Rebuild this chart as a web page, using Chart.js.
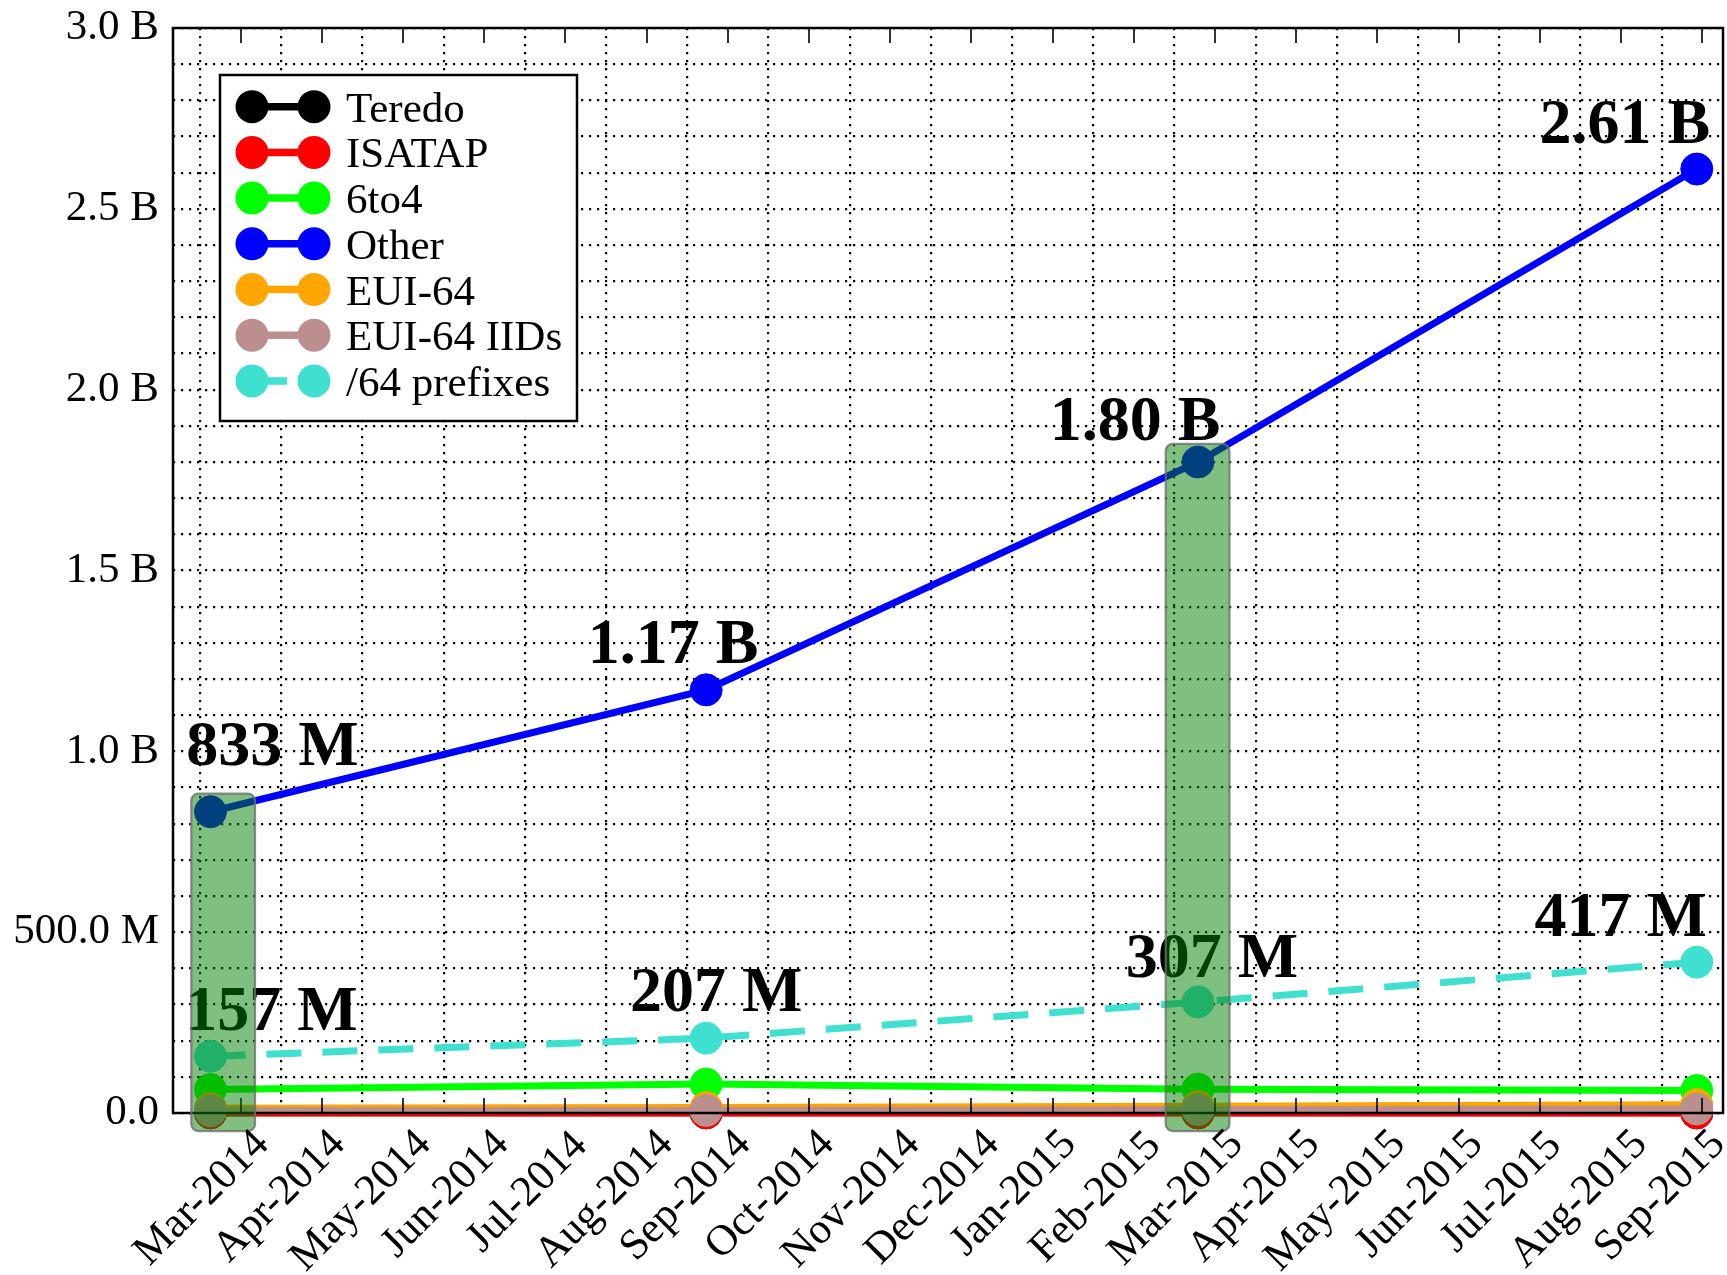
<!DOCTYPE html>
<html>
<head>
<meta charset="utf-8">
<title>IPv6 address counts</title>
<script src="https://cdn.jsdelivr.net/npm/chart.js@4.4.1/dist/chart.umd.min.js"></script>
<style>
  html, body { margin: 0; padding: 0; background: #ffffff; }
  #wrap { width: 1727px; height: 1275px; }
</style>
</head>
<body>
<div id="wrap"><canvas id="chart" width="1727" height="1275"></canvas></div>
<script>
// ---- data -------------------------------------------------------------
const monthLabels = [
  'Mar-2014', 'Apr-2014', 'May-2014', 'Jun-2014', 'Jul-2014', 'Aug-2014',
  'Sep-2014', 'Oct-2014', 'Nov-2014', 'Dec-2014', 'Jan-2015', 'Feb-2015',
  'Mar-2015', 'Apr-2015', 'May-2015', 'Jun-2015', 'Jul-2015', 'Aug-2015',
  'Sep-2015'
];
const sampleDates = ['2014-03-05', '2014-09-08', '2015-03-10', '2015-09-14'];

const seriesNames = ['Teredo', 'ISATAP', '6to4', 'Other', 'EUI-64', 'EUI-64 IIDs', '/64 prefixes'];
const teredo     = [0.6e6, 0.5e6, 0.4e6, 0.4e6];
const isatap     = [0.3e6, 0.2e6, 0.2e6, 0.2e6];
const sixToFour  = [65e6, 80e6, 66e6, 62e6];
const other      = [833e6, 1170e6, 1800e6, 2610e6];
const eui64      = [13e6, 15e6, 19e6, 23e6];
const eui64Iids  = [6e6, 7e6, 9e6, 11e6];
const prefixes64 = [157e6, 207e6, 307e6, 417e6];

const yTickValues = [0, 0.5e9, 1.0e9, 1.5e9, 2.0e9, 2.5e9, 3.0e9];
const yTickLabels = ['0.0', '500.0 M', '1.0 B', '1.5 B', '2.0 B', '2.5 B', '3.0 B'];

// measurement windows shaded on the plot
const highlightWindows = [['2014-02-26', '2014-03-22'], ['2015-02-26', '2015-03-22']];

// ---- styling ----------------------------------------------------------
const seriesColors = ['#000000', '#ff0000', '#00ff00', '#0000ff', '#ffa500', '#bc8f8f', '#40e0d0'];
const seriesDash   = [[], [], [], [], [], [], [35, 21]];
const FONT = '"Liberation Serif", "Times New Roman", serif';

// text offsets (px) of value labels from their markers: [dx of centre, dy of baseline]
const labelledSeries = [
  { index: 3, nudges: [[62, -47], [-33, -27], [-63, -22], [-72, -26]] },
  { index: 6, nudges: [[61, -26], [10, -27], [14, -25], [-76, -26]] }
];

// ---- helpers ----------------------------------------------------------
// position on the month axis: 0 = start of Mar-2014, 1 = start of Apr-2014, ...
function monthPos(iso) {
  const [yr, mo, d] = iso.split('-').map(Number);
  const idx = (yr - 2014) * 12 + (mo - 3);
  const daysInMonth = new Date(yr, mo, 0).getDate();
  return idx + (d - 1) / daysInMonth;
}
function fmtValue(v) {
  return v >= 1e9 ? (v / 1e9).toFixed(2) + ' B' : Math.round(v / 1e6) + ' M';
}

const allSeries = [teredo, isatap, sixToFour, other, eui64, eui64Iids, prefixes64];
const datasets = allSeries.map((vals, i) => ({
  label: seriesNames[i],
  data: vals.map((v, j) => ({ x: monthPos(sampleDates[j]), y: v })),
  borderColor: seriesColors[i],
  backgroundColor: seriesColors[i],
  pointBackgroundColor: seriesColors[i],
  pointBorderColor: seriesColors[i],
  pointBorderWidth: 1,
  pointRadius: 16,
  pointHoverRadius: 16,
  borderWidth: 7,
  borderDash: seriesDash[i],
  tension: 0,
  fill: false,
  clip: false,
  order: allSeries.length - i   // later series are painted on top
}));

// ---- overlays: frame, minor ticks, value labels, shaded windows, legend, month labels
const overlays = {
  id: 'overlays',
  afterDatasetsDraw(chart) {
    const { ctx, chartArea: a, scales: { x, y } } = chart;
    ctx.save();

    // axes frame
    ctx.strokeStyle = '#000';
    ctx.lineWidth = 2.5;
    ctx.strokeRect(a.left, a.top, a.right - a.left, a.bottom - a.top);

    // mid-month tick marks on top and bottom edges
    ctx.lineWidth = 1.6;
    for (let i = 0; i < monthLabels.length; i++) {
      const px = Math.round(x.getPixelForValue(i + 0.5));
      if (px >= a.right - 3) continue;
      ctx.beginPath();
      ctx.moveTo(px, a.bottom); ctx.lineTo(px, a.bottom - 15);
      ctx.moveTo(px, a.top);    ctx.lineTo(px, a.top + 15);
      ctx.stroke();
    }

    // value labels
    ctx.font = 'bold 64px ' + FONT;
    ctx.fillStyle = '#000';
    ctx.textAlign = 'center';
    ctx.textBaseline = 'alphabetic';
    labelledSeries.forEach(({ index, nudges }) => {
      const meta = chart.getDatasetMeta(index);
      meta.data.forEach((pt, j) => {
        const v = chart.data.datasets[index].data[j].y;
        ctx.fillText(fmtValue(v), pt.x + nudges[j][0], pt.y + nudges[j][1]);
      });
    });

    // shaded measurement windows
    highlightWindows.forEach(([from, to]) => {
      const x0 = monthPos(from), x1 = monthPos(to);
      let top = 0;
      sampleDates.forEach((d, j) => {
        const p = monthPos(d);
        if (p >= x0 && p <= x1) allSeries.forEach(s => { top = Math.max(top, s[j]); });
      });
      const left = x.getPixelForValue(x0), right = x.getPixelForValue(x1);
      const yTop = y.getPixelForValue(top + 50e6), yBot = y.getPixelForValue(-50e6);
      ctx.beginPath();
      ctx.roundRect(left, yTop, right - left, yBot - yTop, 7);
      ctx.fillStyle = 'rgba(0,128,0,0.5)';
      ctx.fill();
      ctx.lineWidth = 2.2;
      ctx.strokeStyle = 'rgba(110,110,110,0.8)';
      ctx.stroke();
    });
    ctx.restore();
  },
  afterDraw(chart) {
    const { ctx, chartArea: a, scales: { x } } = chart;
    ctx.save();

    // legend
    const lx = a.left + 47, ly = a.top + 47, lw = 357, lh = 346, row = 45.7;
    ctx.fillStyle = '#fff';
    ctx.fillRect(lx, ly, lw, lh);
    ctx.strokeStyle = '#000';
    ctx.lineWidth = 2.5;
    ctx.strokeRect(lx, ly, lw, lh);
    chart.data.datasets.forEach((ds, i) => {
      const cy = ly + 31.7 + i * row;
      const c1 = lx + 32, c2 = lx + 94;
      ctx.strokeStyle = ds.borderColor;
      ctx.fillStyle = ds.borderColor;
      ctx.lineWidth = 7.5;
      ctx.setLineDash(ds.borderDash || []);
      ctx.beginPath();
      ctx.moveTo(c1, cy); ctx.lineTo(c2, cy);
      ctx.stroke();
      ctx.setLineDash([]);
      [c1, c2].forEach(cx => {
        ctx.beginPath();
        ctx.arc(cx, cy, 16.5, 0, Math.PI * 2);
        ctx.fill();
      });
      ctx.fillStyle = '#000';
      ctx.font = '43px ' + FONT;
      ctx.textAlign = 'left';
      ctx.textBaseline = 'alphabetic';
      ctx.fillText(ds.label, lx + 126, cy + 15);
    });

    // month labels, rotated 45 degrees, centred under each month
    ctx.font = '43px ' + FONT;
    ctx.fillStyle = '#000';
    ctx.textAlign = 'center';
    ctx.textBaseline = 'alphabetic';
    const s = Math.SQRT1_2;
    monthLabels.forEach((lab, i) => {
      const m = ctx.measureText(lab);
      const asc = m.actualBoundingBoxAscent, desc = m.actualBoundingBoxDescent;
      const h = asc + desc;
      const boxH = (m.width + h) * s;
      const cx = x.getPixelForValue(i);
      const cy = a.bottom + 13 + boxH / 2;
      ctx.save();
      ctx.translate(cx, cy);
      ctx.rotate(-Math.PI / 4);
      ctx.fillText(lab, 0, (asc - desc) / 2);
      ctx.restore();
    });
    ctx.restore();
  }
};

Chart.defaults.font.family = FONT;

new Chart(document.getElementById('chart'), {
  type: 'line',
  data: { datasets },
  options: {
    responsive: false,
    animation: false,
    devicePixelRatio: 1,
    layout: { autoPadding: false, padding: { left: 0, top: 28, right: 4, bottom: 0 } },
    plugins: { legend: { display: false }, tooltip: { enabled: false } },
    scales: {
      x: {
        type: 'linear',
        min: -0.3325,
        max: 18.756,
        bounds: 'data',
        afterBuildTicks(scale) {
          scale.ticks = monthLabels.map((_, i) => ({ value: i }));
        },
        afterFit(scale) { scale.height = 162; },
        ticks: { display: false },
        grid: { color: '#000', lineWidth: 2.2, drawTicks: false },
        border: { display: false, dash: [2.2, 5.8] }
      },
      y: {
        type: 'linear',
        min: 0,
        max: 3e9,
        afterFit(scale) { scale.width = 173; },
        ticks: {
          stepSize: 1e8,
          maxTicksLimit: 40,
          autoSkip: false,
          padding: 14,
          color: '#000',
          font: { size: 43, family: FONT, lineHeight: 0.3 },
          callback(value) {
            const k = yTickValues.findIndex(v => Math.abs(v - value) < 1);
            return k >= 0 ? yTickLabels[k] : '';
          }
        },
        grid: { color: '#000', lineWidth: 2.2, drawTicks: false },
        border: { display: false, dash: [2.2, 5.8] }
      }
    }
  },
  plugins: [overlays]
});
</script>
</body>
</html>
